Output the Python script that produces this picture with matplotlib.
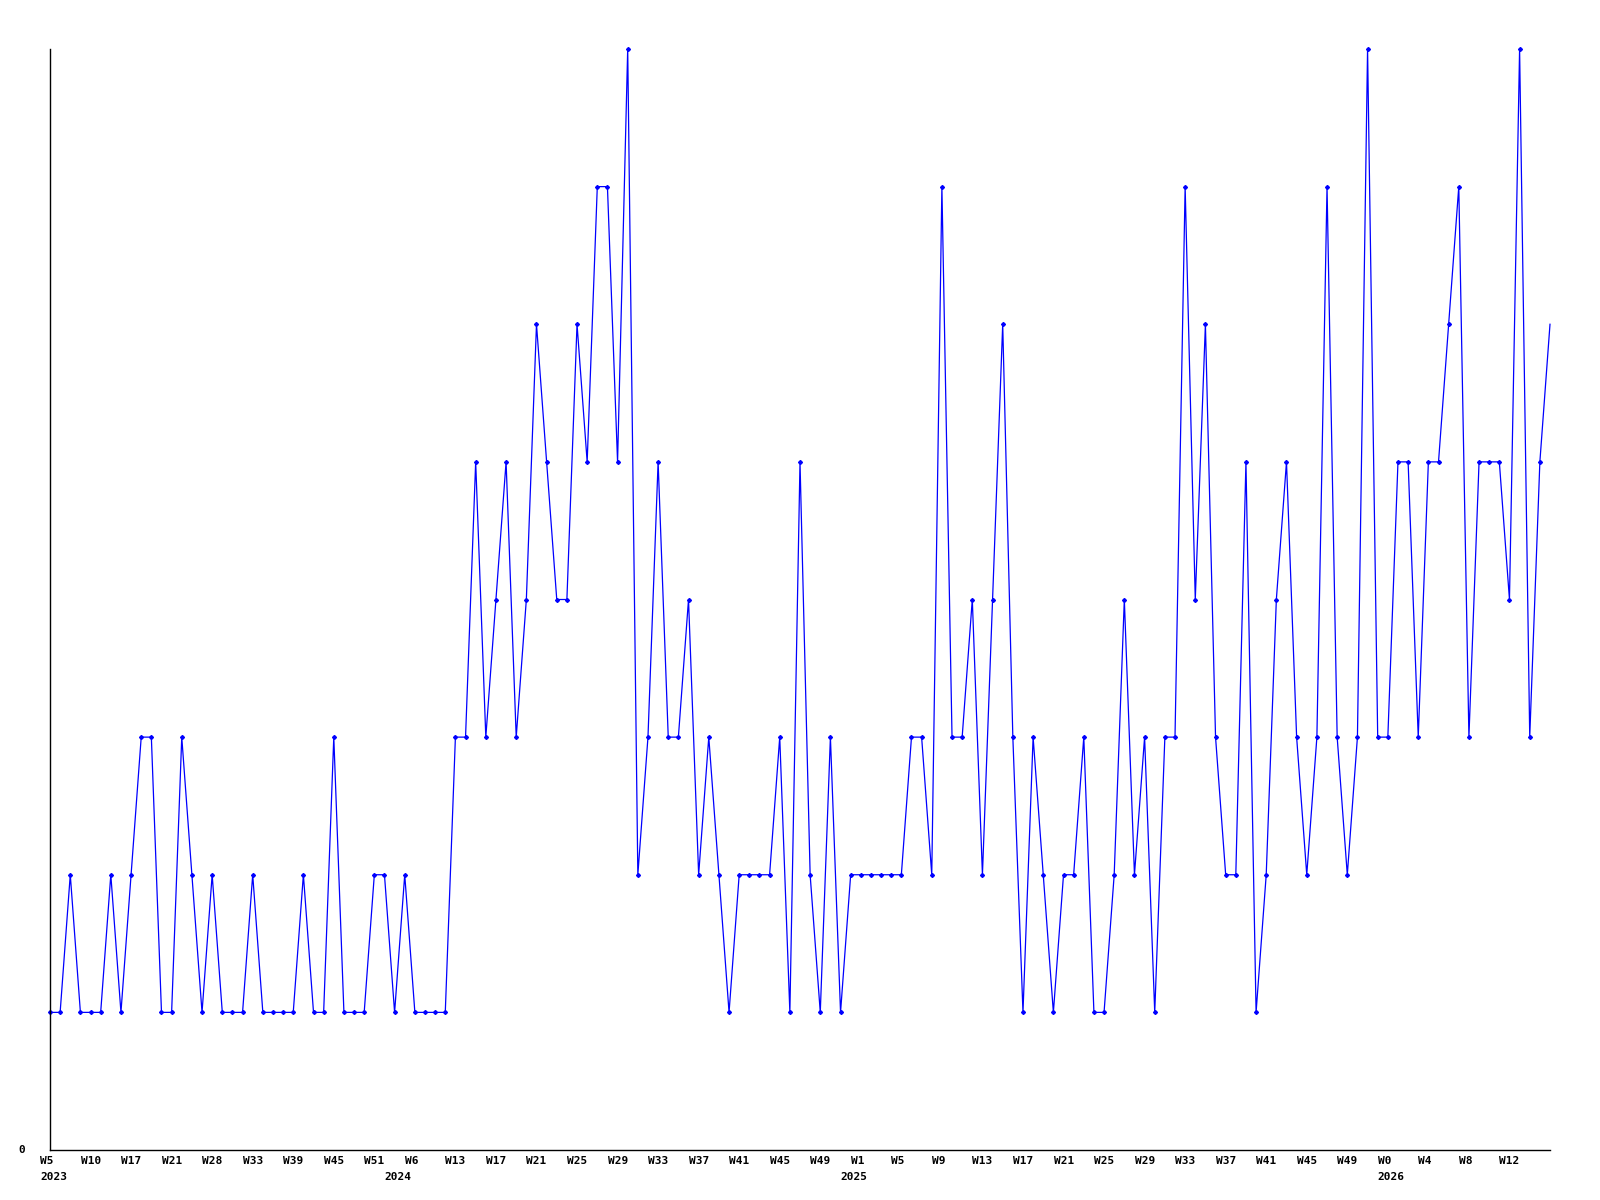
"""Weekly counts line chart, 2023 W5 .. 2026 W16."""

import matplotlib
matplotlib.use("Agg")
import matplotlib.pyplot as plt

# weekly values, one per week index
counts = [
    1, 1, 2, 1, 1, 1, 2, 1, 2, 3, 3, 1, 1, 3, 2, 1, 2, 1, 1, 1,
    2, 1, 1, 1, 1, 2, 1, 1, 3, 1, 1, 1, 2, 2, 1, 2, 1, 1, 1, 1,
    3, 3, 5, 3, 4, 5, 3, 4, 6, 5, 4, 4, 6, 5, 7, 7, 5, 8, 2, 3,
    5, 3, 3, 4, 2, 3, 2, 1, 2, 2, 2, 2, 3, 1, 5, 2, 1, 3, 1, 2,
    2, 2, 2, 2, 2, 3, 3, 2, 7, 3, 3, 4, 2, 4, 6, 3, 1, 3, 2, 1,
    2, 2, 3, 1, 1, 2, 4, 2, 3, 1, 3, 3, 7, 4, 6, 3, 2, 2, 5, 1,
    2, 4, 5, 3, 2, 3, 7, 3, 2, 3, 8, 3, 3, 5, 5, 3, 5, 5, 6, 7,
    3, 5, 5, 5, 4, 8, 3, 5, 6,
]

# a week label every 4th point
week_labels = [
    "W5", "W10", "W17", "W21", "W28", "W33", "W39", "W45", "W51", "W6",
    "W13", "W17", "W21", "W25", "W29", "W33", "W37", "W41", "W45", "W49",
    "W1", "W5", "W9", "W13", "W17", "W21", "W25", "W29", "W33", "W37",
    "W41", "W45", "W49", "W0", "W4", "W8", "W12",
]
label_step = 4

years = ["2023", "2024", "2025", "2026"]
year_index = [0, 34, 79, 132]

mono = "DejaVu Sans Mono"

fig = plt.figure(figsize=(16, 12), dpi=100)
ax = fig.add_axes([50 / 1600, 50 / 1200, 1500 / 1600, 1101 / 1200])

x = list(range(len(counts)))
# the last (current, partial) week is drawn without a marker
ax.plot(x, counts, color="#0000ff", lw=0.9, marker="D", ms=2.0,
        mec="#0000ff", mfc="#0000ff", markevery=list(range(len(counts) - 1)),
        clip_on=False)

ax.set_xlim(0, len(counts) - 1)
ax.set_ylim(0, 8)

for side in ("top", "right"):
    ax.spines[side].set_visible(False)
for side in ("left", "bottom"):
    ax.spines[side].set_color("black")
    ax.spines[side].set_linewidth(1.0)

ax.set_xticks([])
ax.set_yticks([])

# "0" at the origin
ax.annotate("0", xy=(0, 0), xycoords="data", xytext=(-25, 0),
            textcoords="offset pixels", ha="right", va="center",
            fontsize=8, fontweight="bold", family=mono)

for k, lab in enumerate(week_labels):
    ax.annotate(lab, xy=(k * label_step, 0), xycoords="data",
                xytext=(-10, -11), textcoords="offset pixels",
                ha="left", va="center", fontsize=8, fontweight="bold",
                family=mono)

for yr, idx in zip(years, year_index):
    ax.annotate(yr, xy=(idx, 0), xycoords="data",
                xytext=(-10, -27), textcoords="offset pixels",
                ha="left", va="center", fontsize=8, fontweight="bold",
                family=mono)

fig.savefig("out.png", dpi=100, facecolor="white")
plt.close(fig)
